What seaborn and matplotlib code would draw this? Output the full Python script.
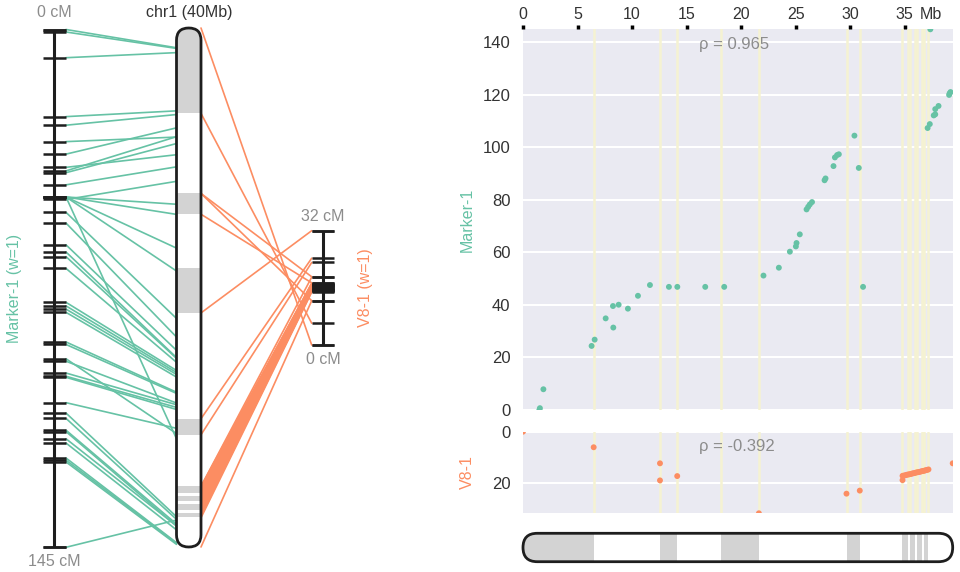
import matplotlib
matplotlib.use("Agg")
import matplotlib.pyplot as plt
import seaborn as sns
from matplotlib.patches import FancyBboxPatch, ConnectionPatch

# chromosome and its grey scaffold blocks (Mb)
chrom_name = "chr1 (40Mb)"
chrom_len = 39.4
band_start = [0.0, 12.55, 18.2, 29.7, 34.75, 35.5, 36.1, 36.8]
band_end = [6.47, 14.1, 21.6, 30.9, 35.3, 35.9, 36.6, 37.15]

# Marker-1 map: physical position (Mb) vs genetic position (cM)
m1_name = "Marker-1"
m1_len = 145
m1_rho = "0.965"
m1_mb = [1.50, 1.55, 1.87, 6.29, 6.57, 7.58, 8.28, 8.25, 8.77, 9.62,
         10.54, 11.64, 13.38, 14.15, 16.71, 18.45, 22.05, 23.46, 24.47, 25.02,
         25.08, 25.38, 26.00, 26.15, 26.30, 26.50, 27.65, 27.74, 28.47, 28.60,
         28.80, 28.96, 30.39, 30.79, 31.18, 37.10, 37.30, 37.66, 37.80, 37.80,
         38.10, 39.07, 39.12, 39.20, 37.35]
m1_cm = [0.0, 0.7, 7.9, 24.4, 26.8, 34.9, 31.4, 39.6, 40.1, 38.6,
         43.5, 47.6, 46.9, 46.9, 46.9, 46.9, 51.2, 54.2, 60.3, 62.3,
         63.6, 66.9, 76.4, 77.4, 78.3, 79.2, 87.5, 88.2, 92.9, 96.2,
         97.1, 97.4, 104.5, 92.2, 46.9, 107.4, 108.9, 112.2, 112.6, 114.6,
         115.8, 120.0, 120.6, 121.1, 145.0]

# V8-1 map
v8_name = "V8-1"
v8_len = 32
v8_rho = "-0.392"
v8_mb = [0.0, 6.48, 12.56, 12.56, 14.14, 21.63, 29.66, 30.88, 34.80,
         34.80, 34.92, 35.05, 35.18, 35.30, 35.42, 35.55, 35.68, 35.80, 35.92,
         36.05, 36.18, 36.30, 36.42, 36.55, 36.68, 36.80, 36.92, 37.05, 37.18,
         39.4]
v8_cm = [0.0, 6.1, 12.4, 19.1, 17.4, 32.0, 24.3, 23.1, 19.0,
         17.3, 17.2, 17.1, 16.9, 16.8, 16.7, 16.6, 16.4, 16.3, 16.2,
         16.0, 15.9, 15.8, 15.7, 15.5, 15.4, 15.3, 15.1, 15.0, 14.8,
         12.4]

teal = "#66c2a5"
orange = "#fc8d62"
ink = "#1e1e1e"
band_grey = "#d3d3d3"
boundary_yellow = "#f5f2d2"

sns.set_theme(style="darkgrid")
plt.rcParams["font.family"] = ["Liberation Sans", "DejaVu Sans"]

W, H = 960, 572
fig = plt.figure(figsize=(W / 100, H / 100), dpi=100, facecolor="white")


def px_axes(x0, y0, x1, y1):
    return fig.add_axes([x0 / W, 1 - y1 / H, (x1 - x0) / W, (y1 - y0) / H])


def draw_map(ax, cms, length, top_down):
    ax.set_xlim(-1, 1)
    ax.set_ylim((length, 0) if top_down else (0, length))
    ax.axis("off")
    ax.vlines(0, 0, length, color=ink, lw=2.2, clip_on=False)
    ax.hlines(list(cms) + [0, length], -1, 1, color=ink, lw=1.8, clip_on=False)


def draw_chrom(ax, vertical):
    bb = ax.get_window_extent()
    asp = bb.width / bb.height
    rs = 0.5 * min(1.0, 1.0 / asp)
    style = f"round,pad=0,rounding_size={rs}"
    shape = FancyBboxPatch((0, 0), 1, 1, boxstyle=style, mutation_aspect=asp,
                           transform=ax.transAxes, fc="white", ec="none")
    ax.add_patch(shape)
    for s, e in zip(band_start, band_end):
        if vertical:
            span = ax.axhspan(s, e, color=band_grey, lw=0)
        else:
            span = ax.axvspan(s, e, color=band_grey, lw=0)
        span.set_clip_path(shape)
    outline = FancyBboxPatch((0, 0), 1, 1, boxstyle=style, mutation_aspect=asp,
                             transform=ax.transAxes, fc="none", ec=ink, lw=2,
                             clip_on=False, zorder=5)
    ax.add_patch(outline)
    ax.axis("off")


# ---------- left: the two maps and the chromosome ----------
ax_m = px_axes(42.5, 29.5, 66, 547.3)
ax_c = px_axes(176.5, 28, 201, 547)
ax_v = px_axes(311.7, 230.7, 334.3, 345)

draw_map(ax_m, m1_cm, m1_len, top_down=True)
draw_map(ax_v, v8_cm, v8_len, top_down=False)
ax_c.set_xlim(0, 1)
ax_c.set_ylim(chrom_len, 0)
draw_chrom(ax_c, vertical=True)

for mb, cm in zip(m1_mb, m1_cm):
    con = ConnectionPatch(xyA=(1, cm), coordsA="data", axesA=ax_m,
                          xyB=(0, mb), coordsB="data", axesB=ax_c,
                          color=teal, lw=1.2, zorder=-1)
    fig.add_artist(con)
for mb, cm in zip(v8_mb, v8_cm):
    con = ConnectionPatch(xyA=(1, mb), coordsA="data", axesA=ax_c,
                          xyB=(-1, cm), coordsB="data", axesB=ax_v,
                          color=orange, lw=1.2, zorder=-1)
    fig.add_artist(con)

lab = dict(textcoords="offset points", ha="center", va="center", fontsize=11.5)
ax_m.annotate("0 cM", xy=(0.5, 1), xycoords="axes fraction", xytext=(0, 12.5),
              color="#8c8c8c", **lab)
ax_m.annotate(f"{m1_len} cM", xy=(0.5, 0), xycoords="axes fraction",
              xytext=(0, -10.5), color="#8c8c8c", **lab)
ax_v.annotate(f"{v8_len} cM", xy=(0.5, 1), xycoords="axes fraction",
              xytext=(0, 10.5), color="#8c8c8c", **lab)
ax_v.annotate("0 cM", xy=(0.5, 0), xycoords="axes fraction", xytext=(0, -10.5),
              color="#8c8c8c", **lab)
ax_c.annotate(chrom_name, xy=(0.5, 1), xycoords="axes fraction",
              xytext=(0, 11.5), color="#333333", **lab)
ax_m.annotate(f"{m1_name} (w=1)", xy=(0, 0.5), xycoords="axes fraction",
              xytext=(-20.5, 0), rotation=90, color=teal, **lab)
ax_v.annotate(f"{v8_name} (w=1)", xy=(1, 0.5), xycoords="axes fraction",
              xytext=(22.5, 0), rotation=90, color=orange, **lab)

# ---------- right: scatter of genetic vs physical position ----------
ax_top = px_axes(523, 29.3, 952.7, 410)
ax_bot = px_axes(523, 431.7, 952.7, 513.3)
ax_bar = px_axes(523, 533.3, 952.7, 561.7)

boundaries = sorted(set(band_start + band_end) - {0.0})

for ax, mbs, cms, col, name, rho, ylim, yticks, rho_y in [
        (ax_top, m1_mb, m1_cm, teal, m1_name, m1_rho, (0, m1_len),
         range(0, 141, 20), 0.959),
        (ax_bot, v8_mb, v8_cm, orange, v8_name, v8_rho, (v8_len, 0),
         [0, 20], 0.816)]:
    ax.set_xlim(0, chrom_len)
    ax.set_ylim(*ylim)
    for b in boundaries:
        ax.axvline(b, color=boundary_yellow, lw=1.8, zorder=1)
    sns.scatterplot(x=mbs, y=cms, ax=ax, color=col, s=18, edgecolor="none",
                    linewidth=0, zorder=3)
    ax.grid(axis="x", visible=False)
    ax.grid(axis="y", color="white", lw=1.5)
    ax.set_yticks(list(yticks))
    ax.tick_params(axis="y", labelsize=12, labelcolor="#333333", length=0, pad=9)
    ax.set_ylabel(name, color=col, fontsize=11.5)
    ax.yaxis.set_label_coords(-0.112, 0.5)
    ax.text(0.41, rho_y, f"ρ = {rho}", transform=ax.transAxes, va="center",
            ha="left", color="#8c8c8c", fontsize=12)
    for sp in ax.spines.values():
        sp.set_visible(False)

ax_top.xaxis.tick_top()
ax_top.set_xticks(range(0, 36, 5))
ax_top.tick_params(axis="x", top=True, bottom=False, labeltop=True,
                   labelbottom=False, length=3, width=2.5, color="black",
                   labelsize=11.5, labelcolor="#333333", pad=2)
ax_top.annotate("Mb", xy=(1, 1), xycoords="axes fraction", xytext=(-7.5, 10.5),
                textcoords="offset points", ha="right", va="center",
                fontsize=11.5, color="#333333")
ax_bot.set_xticks([])

ax_bar.set_xlim(0, chrom_len)
ax_bar.set_ylim(0, 1)
draw_chrom(ax_bar, vertical=False)

fig.savefig("out.png", dpi=100, facecolor="white")
